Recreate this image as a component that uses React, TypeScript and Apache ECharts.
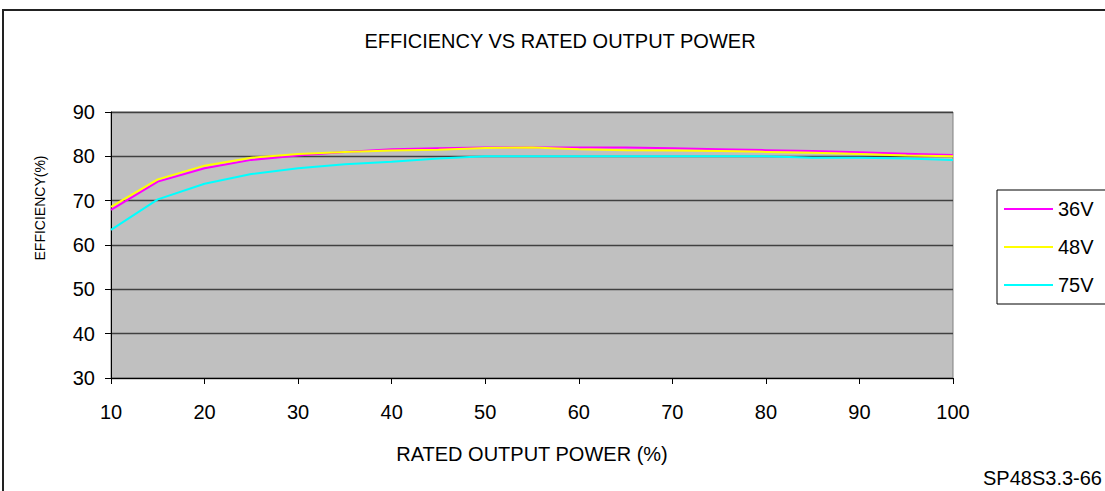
import React, { useEffect, useRef } from "react";
import * as echarts from "echarts";

const power = [10, 15, 20, 25, 30, 35, 40, 45, 50, 55, 60, 65, 70, 75, 80, 85, 90, 95, 100];
const eff36 = [67.9, 74.3, 77.3, 79.2, 80.2, 81.0, 81.6, 81.8, 82.0, 82.0, 82.0, 82.0, 81.8, 81.6, 81.4, 81.2, 80.9, 80.6, 80.3];
const eff48 = [68.6, 74.8, 77.9, 79.7, 80.5, 81.0, 81.3, 81.5, 81.9, 82.0, 81.6, 81.4, 81.3, 81.2, 81.0, 80.8, 80.5, 80.2, 80.0];
const eff75 = [63.4, 70.3, 73.8, 76.0, 77.3, 78.2, 78.8, 79.5, 80.0, 80.0, 80.0, 80.0, 80.0, 80.0, 80.0, 79.7, 79.7, 79.5, 79.2];
const seriesNames = ["36V", "48V", "75V"];
const seriesColors = ["#FF00FF", "#FFFF00", "#00FFFF"];

const FONT = "'Liberation Sans', Arial, sans-serif";

export default function App() {
  const ref = useRef<HTMLDivElement>(null);
  useEffect(() => {
    if (!ref.current) return;
    const chart = echarts.init(ref.current, null, { renderer: "svg" });
    const all = [eff36, eff48, eff75];
    chart.setOption({
      animation: false,
      backgroundColor: "#FFFFFF",
      textStyle: { fontFamily: FONT },
      grid: {
        left: 111,
        top: 112,
        width: 842,
        height: 266,
        show: true,
        backgroundColor: "#C0C0C0",
        borderColor: "#808080",
        borderWidth: 1,
      },
      xAxis: {
        type: "value",
        min: 10,
        max: 100,
        interval: 10,
        name: "RATED OUTPUT POWER (%)",
        nameLocation: "middle",
        nameGap: 66,
        nameTextStyle: { fontSize: 20, color: "#000", fontFamily: FONT, verticalAlign: "top" },
        axisLine: { onZero: false, lineStyle: { color: "#000", width: 1 } },
        axisTick: { show: true, inside: false, length: 6, lineStyle: { color: "#000" } },
        axisLabel: { fontSize: 20, color: "#000", margin: 24, fontFamily: FONT },
        splitLine: { show: false },
      },
      yAxis: {
        type: "value",
        min: 30,
        max: 90,
        interval: 10,
        axisLine: { show: true, lineStyle: { color: "#000", width: 1 } },
        axisTick: { show: true, inside: false, length: 6, lineStyle: { color: "#000" } },
        axisLabel: { fontSize: 20, color: "#000", margin: 16, fontFamily: FONT },
        splitLine: { show: true, lineStyle: { color: "#404040", width: 1.3 } },
      },
      legend: {
        orient: "vertical",
        left: 1004,
        top: 197,
        padding: 0,
        itemGap: 14,
        itemWidth: 49,
        itemHeight: 2,
        icon: "rect",
        z: 10,
        textStyle: { fontSize: 20, color: "#000", fontFamily: FONT, lineHeight: 24 },
        data: seriesNames,
      },
      graphic: [
        {
          type: "rect",
          z: 1,
          shape: { x: 3, y: 10, width: 1120, height: 490 },
          style: { fill: "none", stroke: "#222", lineWidth: 2 },
        },
        {
          type: "rect",
          z: 1,
          shape: { x: 997, y: 190, width: 200, height: 114 },
          style: { fill: "#fff", stroke: "#000", lineWidth: 1 },
        },
        {
          type: "text",
          x: 560,
          y: 41,
          style: {
            text: "EFFICIENCY VS RATED OUTPUT POWER",
            fill: "#000",
            font: `20px ${FONT}`,
            align: "center",
            verticalAlign: "middle",
          },
        },
        {
          type: "text",
          x: 40,
          y: 208,
          rotation: Math.PI / 2,
          style: {
            text: "EFFICIENCY(%)",
            fill: "#000",
            font: `14px ${FONT}`,
            align: "center",
            verticalAlign: "middle",
          },
        },
        {
          type: "text",
          x: 1102,
          y: 478,
          style: {
            text: "SP48S3.3-66",
            fill: "#000",
            font: `20px ${FONT}`,
            align: "right",
            verticalAlign: "middle",
          },
        },
      ],
      series: seriesNames.map((name, i) => ({
        name,
        type: "line",
        showSymbol: false,
        symbol: "none",
        color: seriesColors[i],
        lineStyle: { color: seriesColors[i], width: 2 },
        data: power.map((p, j) => [p, all[i][j]]),
      })),
    });
    return () => chart.dispose();
  }, []);
  return (
    <div
      ref={ref}
      style={{ position: "absolute", left: 0, top: 0, width: 1105, height: 491, background: "#fff" }}
    />
  );
}
